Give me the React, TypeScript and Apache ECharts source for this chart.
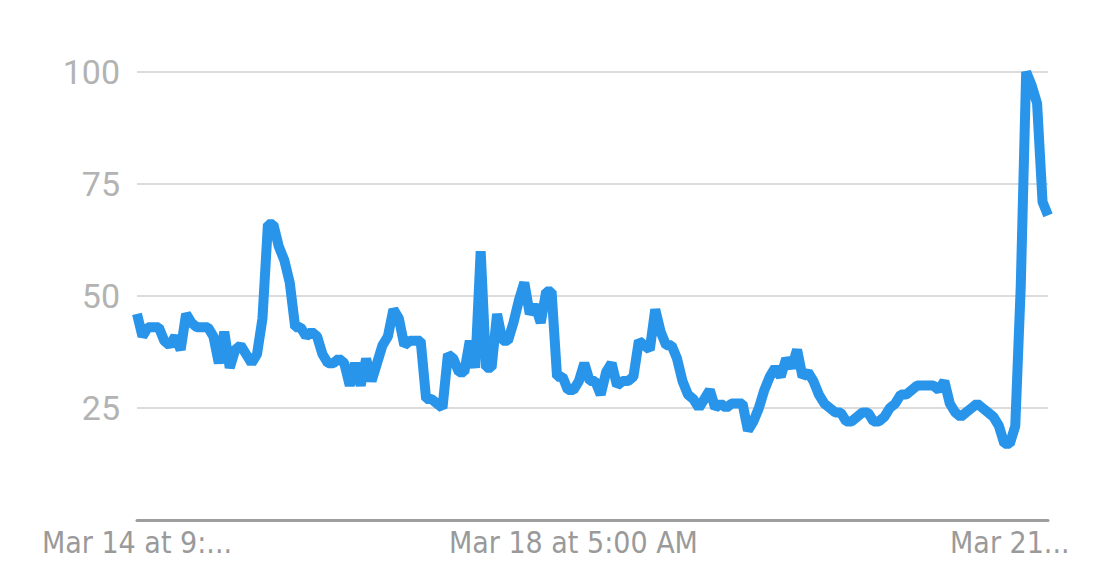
import React, { useEffect, useRef } from "react";
import * as echarts from "echarts";

// Search interest, hourly, starting Mar 14 at 9:00 PM
const interest: number[] = [
  46, 41, 43, 43, 43, 40, 39, 41, 38, 46,
  44, 43, 43, 43, 41, 35, 42, 34, 38, 39,
  37, 35, 37, 45, 66, 66, 61, 58, 53, 43,
  43, 41, 42, 41, 37, 35, 35, 36, 35, 30,
  35, 30, 36, 31, 35, 39, 41, 47, 45, 39,
  40, 40, 40, 27, 27, 26, 25, 37, 36, 33,
  33, 40, 34, 60, 34, 34, 46, 40, 40, 44,
  49, 53, 46, 48, 44, 51, 51, 32, 32, 29,
  29, 31, 35, 31, 31, 28, 33, 35, 30, 31,
  31, 32, 40, 39, 38, 47, 42, 39, 39, 36,
  31, 28, 27, 25, 27, 29, 25, 26, 25, 26,
  26, 26, 20, 22, 25, 29, 32, 34, 32, 36,
  34, 38, 32, 33, 31, 28, 26, 25, 24, 24,
  22, 22, 23, 24, 24, 22, 22, 23, 25, 26,
  28, 28, 29, 30, 30, 30, 30, 29, 31, 26,
  24, 23, 24, 25, 26, 25, 24, 23, 21, 17,
  17, 21, 52, 100, 97, 93, 71, 68,
];

const xTickIndices: number[] = [0, 80, 160];
const xTickLabels: string[] = ["Mar 14 at 9:...", "Mar 18 at 5:00 AM", "Mar 21..."];
const yTicks: number[] = [0, 25, 50, 75, 100];

export default function App() {
  const ref = useRef<HTMLDivElement>(null);

  useEffect(() => {
    document.body.style.margin = "0";
    if (!ref.current) return;
    const chart = echarts.init(ref.current, undefined, { renderer: "svg" });
    const categories = interest.map((_, i) => String(i));
    chart.setOption({
      animation: false,
      backgroundColor: "#ffffff",
      grid: { left: 137, right: 61, top: 72, bottom: 44, containLabel: false },
      xAxis: {
        type: "category",
        data: categories,
        boundaryGap: false,
        axisLine: { show: true, lineStyle: { color: "#9e9e9e", width: 3 } },
        axisTick: { show: false },
        splitLine: { show: false },
        axisLabel: {
          interval: (index: number) => xTickIndices.includes(index),
          formatter: (_v: string, index: number) => {
            const k = xTickIndices.indexOf(index);
            return k >= 0 ? xTickLabels[k] : "";
          },
          color: "#9a9a9a",
          fontSize: 30,
          fontFamily: "'Liberation Sans Narrow', 'DejaVu Sans Condensed', Roboto, sans-serif",
          margin: 7,
        },
      },
      yAxis: {
        type: "value",
        min: yTicks[0],
        max: yTicks[yTicks.length - 1],
        interval: 25,
        axisLine: { show: false },
        axisTick: { show: false },
        axisLabel: {
          formatter: (v: number) => (v === 0 ? "" : String(v)),
          color: "#b3b3b3",
          fontSize: 34,
          fontFamily: "Roboto, 'Liberation Sans', sans-serif",
          margin: 17,
        },
        splitLine: { show: true, lineStyle: { color: "#dcdcdc", width: 2 } },
      },
      series: [
        {
          type: "line",
          data: interest,
          showSymbol: false,
          symbol: "none",
          lineStyle: { color: "#2995ea", width: 10, join: "bevel", cap: "butt" },
        },
      ],
    });
    return () => chart.dispose();
  }, []);

  return <div ref={ref} style={{ width: 1109, height: 564 }} />;
}
